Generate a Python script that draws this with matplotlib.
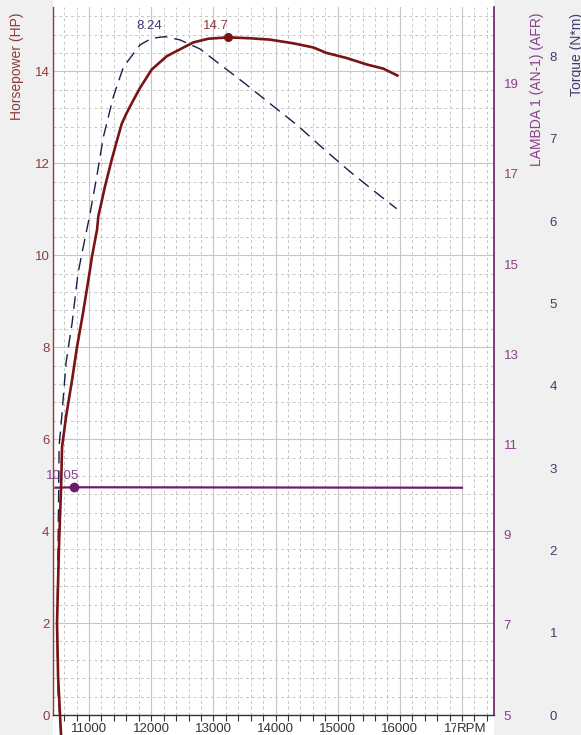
import numpy as np
import matplotlib
matplotlib.use("Agg")
import matplotlib.pyplot as plt
from matplotlib.patches import Rectangle
from matplotlib.ticker import MultipleLocator, FixedLocator

plt.rcParams['font.family'] = ['Liberation Sans', 'DejaVu Sans']

# ---------------- data ----------------
hp_rpm = [10550, 10502, 10485, 10518, 10550, 10566, 10630, 10727, 10807, 10904,
          11016, 11043, 11129, 11150, 11257, 11365, 11450, 11526, 11600, 11660,
          11820, 12008, 12250, 12464, 12678, 12920, 13241, 13590, 13911, 14286,
          14608, 14823, 15145, 15467, 15734, 15960]
hp_val = [-0.45, 0.83, 2.0, 3.74, 4.96, 5.83, 6.49, 7.29, 8.01, 8.75,
          9.69, 9.94, 10.56, 10.85, 11.50, 12.08, 12.50, 12.86, 13.08, 13.24,
          13.64, 14.04, 14.33, 14.48, 14.63, 14.71, 14.74, 14.72, 14.69, 14.61,
          14.52, 14.40, 14.29, 14.15, 14.06, 13.91]

tq_rpm = [10550, 10502, 10485, 10502, 10518, 10566, 10630, 10727, 10823, 10908,
          11016, 11124, 11230, 11391, 11552, 11820, 12008, 12222, 12464, 12785,
          13215, 13509, 13939, 14341, 14769, 15198, 15627, 15949]
tq_val = [-0.25, 0.27, 1.07, 2.09, 3.26, 3.67, 4.28, 4.76, 5.37, 5.69,
          6.09, 6.54, 7.02, 7.51, 7.87, 8.14, 8.22, 8.24, 8.20, 8.09,
          7.84, 7.67, 7.41, 7.17, 6.88, 6.60, 6.34, 6.15]

lam_rpm = [10460, 10760, 17000]
lam_val = [10.04, 10.05, 10.04]

x_ticks = [11000, 12000, 13000, 14000, 15000, 16000, 17000]
x_ticklabels = ["11000", "12000", "13000", "14000", "15000", "16000", "17000"]
hp_ticks = [0, 2, 4, 6, 8, 10, 12, 14]
lam_ticks = [5, 7, 9, 11, 13, 15, 17, 19]
tq_ticks = [0, 1, 2, 3, 4, 5, 6, 7, 8]

# ---------------- figure ----------------
W, H = 581, 735
fig = plt.figure(figsize=(W / 100, H / 100), dpi=100)
fig.patch.set_facecolor('#f0f0f0')

L, R, B, T = 53, 494, 715, 7
fig.patches.append(Rectangle((L / W, 0), (R - L) / W, 1, transform=fig.transFigure,
                             facecolor='white', edgecolor='none', zorder=-10))

ax = fig.add_axes([L / W, 1 - B / H, (R - L) / W, (B - T) / H])
ax.set_facecolor('white')

HP_C = '#7a1414'
HP_T = '#8e3b3b'
TQ_C = '#1c1e4a'
TQ_T = '#3a3d6e'
LA_C = '#6b1c6b'
LA_T = '#8a3f8a'
GRID = '#c6c6c6'

ax.set_xlim(10420, 17515)
ax.set_ylim(0, 15.4)

ax.xaxis.set_major_locator(FixedLocator(x_ticks))
ax.set_xticklabels(x_ticklabels)
ax.xaxis.set_minor_locator(MultipleLocator(200))
ax.yaxis.set_major_locator(FixedLocator(hp_ticks))
ax.yaxis.set_minor_locator(MultipleLocator(0.4))

ax.grid(which='major', color=GRID, lw=0.8, ls='-')
ax.grid(which='minor', color=GRID, lw=0.7, ls=(0, (3, 3)))
ax.set_axisbelow(True)

ax.tick_params(axis='x', which='both', direction='out', length=4, width=0.8,
               color='#333333', labelsize=9.5, labelcolor='#333333', pad=1.5)
ax.tick_params(axis='y', which='both', length=0, labelsize=9.5, labelcolor=HP_T, pad=2.5)

for s in ['top', 'right']:
    ax.spines[s].set_visible(False)
ax.spines['left'].set_color(HP_T)
ax.spines['left'].set_linewidth(1.0)
ax.spines['bottom'].set_color('#333333')
ax.spines['bottom'].set_linewidth(1.0)

# Lambda axis
axL = ax.twinx()
axL.set_ylim(5, 20.7)
axL.yaxis.set_major_locator(FixedLocator(lam_ticks))
axL.tick_params(axis='y', length=0, labelsize=9.5, labelcolor=LA_T, pad=7)
for s in ['top', 'left', 'bottom']:
    axL.spines[s].set_visible(False)
axL.spines['right'].set_color(LA_C)
axL.spines['right'].set_linewidth(1.2)
axL.plot(lam_rpm, lam_val, color=LA_C, lw=1.6, zorder=3)
il = int(np.argmax(lam_val))
axL.plot([lam_rpm[il]], [lam_val[il]], 'o', color=LA_C, ms=6, zorder=4)
axL.annotate(f"{lam_val[il]:.2f}", (lam_rpm[il], lam_val[il]), xytext=(4, 4),
             textcoords='offset points', ha='right', va='bottom', fontsize=9.5, color=LA_T)

# Torque axis
axT = ax.twinx()
axT.set_ylim(0, 8.6)
axT.yaxis.set_major_locator(FixedLocator(tq_ticks))
axT.tick_params(axis='y', length=0, labelsize=9.5, labelcolor=TQ_T, pad=40)
for s in axT.spines.values():
    s.set_visible(False)
axT.plot(tq_rpm, tq_val, color=TQ_C, lw=1.0, ls=(0, (9, 5)), zorder=3, clip_on=False)
it = int(np.argmax(tq_val))
axT.annotate(f"{tq_val[it]:.2f}", (tq_rpm[it], tq_val[it]), xytext=(-2, 3),
             textcoords='offset points', ha='right', va='bottom', fontsize=9.5, color=TQ_T)

# HP curve on top
axH = ax.twinx()
axH.set_ylim(0, 15.4)
axH.set_yticks([])
for s in axH.spines.values():
    s.set_visible(False)
axH.plot(hp_rpm, hp_val, color=HP_C, lw=1.9, zorder=3, clip_on=False,
         solid_joinstyle='round')
ih = int(np.argmax(hp_val))
axH.plot([hp_rpm[ih]], [hp_val[ih]], 'o', color=HP_C, ms=5.5, zorder=4)
axH.annotate(f"{hp_val[ih]:.1f}", (hp_rpm[ih], hp_val[ih]), xytext=(0, 4),
             textcoords='offset points', ha='right', va='bottom', fontsize=9.5, color=HP_T)

# RPM unit label overlapping the last tick label
fig.text(486 / W, 1 - 735 / H, "RPM", ha='right', va='bottom', fontsize=9.5,
         color='#333333', bbox=dict(facecolor='white', edgecolor='none', pad=0.5))

# axis titles
fig.text(17 / W, 1 - 13 / H, "Horsepower (HP)", rotation=90, ha='center', va='top',
         fontsize=10, color=HP_T)
fig.text(537 / W, 1 - 13 / H, "LAMBDA 1 (AN-1) (AFR)", rotation=90, ha='center', va='top',
         fontsize=10, color=LA_T)
fig.text(577 / W, 1 - 13 / H, "Torque (N*m)", rotation=90, ha='center', va='top',
         fontsize=10, color=TQ_T)

fig.savefig("out.png", dpi=100, facecolor=fig.get_facecolor())
